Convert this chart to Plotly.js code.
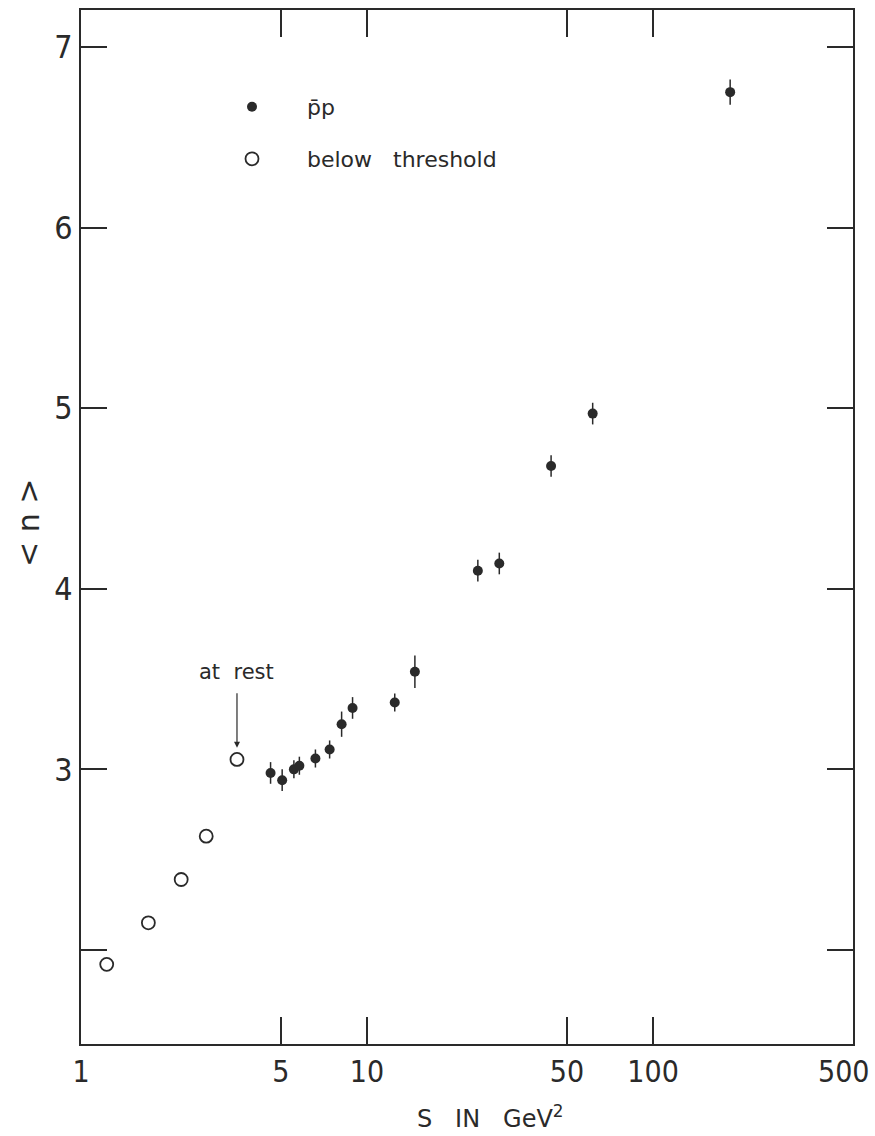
<!DOCTYPE html>
<html>
<head>
<meta charset="utf-8">
<script src="https://cdn.plot.ly/plotly-3.0.1.min.js"></script>
<style>html,body{margin:0;padding:0;background:#fff;}#chart{width:875px;height:1136px;}</style>
</head>
<body>
<div id="chart"></div>
<script>
// p̄p annihilation data (filled points)
const pbarpS = [4.6, 5.05, 5.55, 5.8, 6.6, 7.4, 8.15, 8.9, 12.5, 14.7, 24.4, 29.0, 44.0, 61.5, 186];
const pbarpN = [2.98, 2.94, 3.00, 3.02, 3.06, 3.11, 3.25, 3.34, 3.37, 3.54, 4.10, 4.14, 4.68, 4.97, 6.75];
const pbarpErr = [0.06, 0.06, 0.05, 0.05, 0.05, 0.05, 0.07, 0.06, 0.05, 0.09, 0.06, 0.06, 0.06, 0.06, 0.07];
// below threshold (open points)
const belowS = [1.23, 1.72, 2.24, 2.74, 3.51];
const belowN = [1.92, 2.15, 2.39, 2.63, 3.055];
// axis ticks
const xTickVals = [1, 5, 10, 50, 100];
const xTickText = ['1', '5', '10', '50', '100'];
const xEdgeTickVal = 500;
const xEdgeTickText = '500';
const yTickVals = [3, 4, 5, 6, 7];
const yTickText = ['3', '4', '5', '6', '7'];
const yMinorTickVals = [2];

const ink = '#2a2a2a';
const fontFam = '"Liberation Sans Narrow", "DejaVu Sans Condensed", "Liberation Sans", Arial, sans-serif';
const nb = '\u00a0';
const pad = nb.repeat(5);

const traces = [
  {
    x: pbarpS, y: pbarpN, type: 'scatter', mode: 'markers',
    name: pad + 'p\u0304p', legend: 'legend',
    marker: {symbol: 'circle', size: 10, color: ink},
    error_y: {type: 'data', array: pbarpErr, visible: true, color: ink, thickness: 1.5, width: 0}
  },
  {
    x: belowS, y: belowN, type: 'scatter', mode: 'markers',
    name: pad + 'below' + nb + nb + nb + 'threshold', legend: 'legend2',
    marker: {symbol: 'circle-open', size: 13, color: ink, line: {width: 1.8, color: ink}}
  }
];

const legendFont = {size: 22, family: '"DejaVu Sans", sans-serif', color: ink};
const layout = {
  width: 875, height: 1136,
  margin: {l: 81, r: 22, t: 10, b: 92},
  paper_bgcolor: '#fff', plot_bgcolor: '#fff',
  font: {family: fontFam, color: ink},
  showlegend: true,
  legend: {
    x: (232 - 81) / 772, y: 1 - (86 - 10) / 1034, xanchor: 'left', yanchor: 'top',
    bgcolor: 'rgba(0,0,0,0)', font: legendFont, itemwidth: 30
  },
  legend2: {
    x: (232 - 81) / 772, y: 1 - (138 - 10) / 1034, xanchor: 'left', yanchor: 'top',
    bgcolor: 'rgba(0,0,0,0)', font: legendFont, itemwidth: 30
  },
  xaxis: {
    type: 'log', range: [0, Math.log10(500)],
    tickvals: xTickVals, ticktext: xTickText,
    ticks: 'inside', ticklen: 27, tickwidth: 1.8, tickcolor: ink,
    showline: true, linecolor: ink, linewidth: 2, mirror: 'ticks',
    showgrid: false, zeroline: false,
    tickfont: {size: 30, family: fontFam, color: ink}
  },
  yaxis: {
    range: [1.479, 7.205],
    tickvals: yTickVals, ticktext: yTickText,
    ticks: 'inside', ticklen: 26, tickwidth: 1.8, tickcolor: ink,
    minor: {tickmode: 'array', tickvals: yMinorTickVals, ticks: 'inside', ticklen: 26, tickwidth: 1.8, tickcolor: ink, showgrid: false},
    showline: true, linecolor: ink, linewidth: 2, mirror: 'ticks',
    showgrid: false, zeroline: false,
    tickfont: {size: 32, family: fontFam, color: ink}
  },
  annotations: [
    {
      xref: 'x', yref: 'paper', x: Math.log10(xEdgeTickVal), y: 0,
      xanchor: 'right', yanchor: 'top', xshift: 19, yshift: -8, showarrow: false,
      text: xEdgeTickText, font: {size: 30, family: fontFam, color: ink}
    },
    {
      xref: 'x', yref: 'y', x: Math.log10(3.51), y: 3.12,
      text: 'at' + nb + nb + 'rest', showarrow: true, arrowhead: 2, arrowsize: 1, arrowwidth: 1.2, arrowcolor: ink,
      ax: 0, ay: -76, startstandoff: 8,
      font: {size: 21, family: '"DejaVu Sans", sans-serif', color: ink}
    },
    {
      xref: 'paper', yref: 'paper', x: (490 - 81) / 772, y: -(1117 - 1044) / 1034,
      xanchor: 'center', yanchor: 'middle', showarrow: false,
      text: 'S' + nb + nb + nb + 'IN' + nb + nb + nb + 'GeV<sup>2</sup>',
      font: {size: 24, family: '"DejaVu Sans", sans-serif', color: ink}
    },
    {
      xref: 'paper', yref: 'paper', x: -(81 - 28) / 772, y: (1044 - 523) / 1034,
      xanchor: 'center', yanchor: 'middle', showarrow: false, textangle: -90,
      text: '&lt;' + nb + 'n' + nb + '&gt;',
      font: {size: 30, family: '"DejaVu Sans", sans-serif', color: ink}
    }
  ]
};

Plotly.newPlot('chart', traces, layout, {staticPlot: true});
</script>
</body>
</html>
